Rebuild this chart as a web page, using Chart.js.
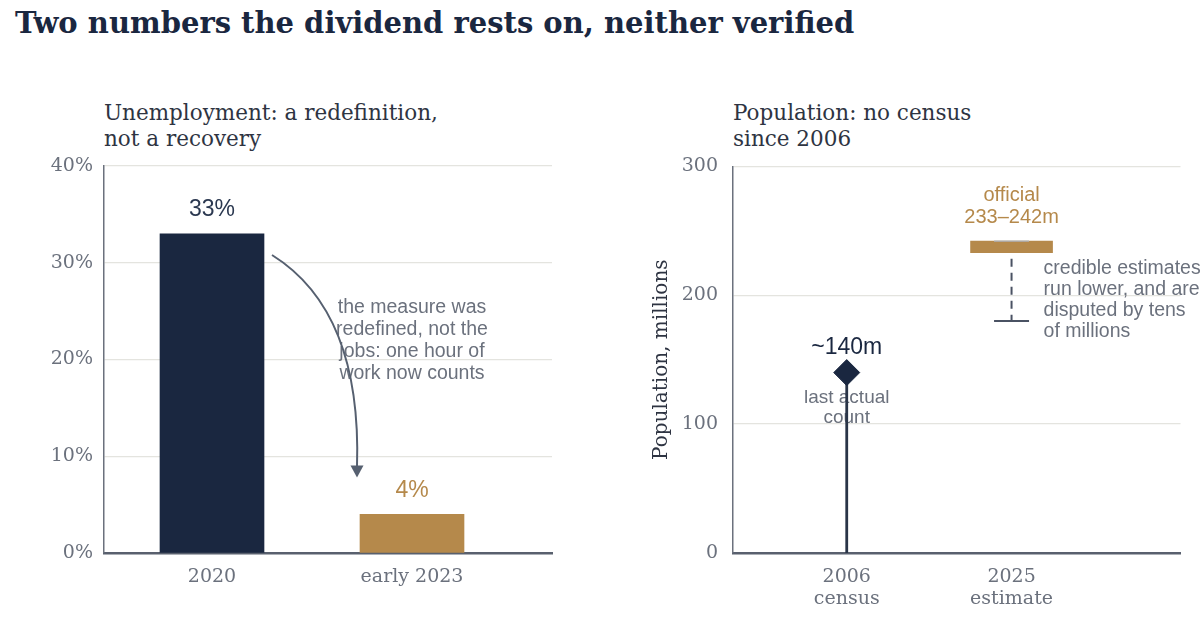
<!DOCTYPE html>
<html>
<head>
<meta charset="utf-8">
<script src="https://cdn.jsdelivr.net/npm/chart.js@4.4.1/dist/chart.umd.min.js"></script>
<style>
body{margin:0;background:#fff;width:1200px;height:636px;overflow:hidden;position:relative;font-family:"DejaVu Serif",serif}
h1{position:absolute;left:15px;top:6px;margin:0;font-size:29px;font-weight:bold;color:#1a2740;white-space:nowrap}
.sub{position:absolute;top:100px;font-size:21.5px;line-height:26px;color:#2e3442}
.wrap{position:absolute;top:140px;width:600px;height:496px}
</style>
</head>
<body>
<h1>Two numbers the dividend rests on, neither verified</h1>
<div class="sub" style="left:104px">Unemployment: a redefinition,<br>not a recovery</div>
<div class="sub" style="left:733px">Population: no census<br>since 2006</div>
<div class="wrap" style="left:0"><canvas id="unemp" width="600" height="496"></canvas></div>
<div class="wrap" style="left:600px"><canvas id="pop" width="600" height="496"></canvas></div>
<script>
// data
const unempLabels = ['2020', 'early 2023'];
const unempValues = [33, 4];
const unempTicks = [0, 10, 20, 30, 40];
const popLabels = [['2006', 'census'], ['2025', 'estimate']];
const censusValue = 140;
const officialRange = [233, 242];
const credibleLow = 180;
const popTicks = [0, 100, 200, 300];

const noteLines = ['the measure was', 'redefined, not the', 'jobs: one hour of', 'work now counts'];
const credibleLines = ['credible estimates', 'run lower, and are', 'disputed by tens', 'of millions'];

const NAVY = '#1a2740';
const TAN = '#b5894b';
const GRAY = '#6b717d';
const GRID = '#e4e4df';
const SANS = '"Liberation Sans", Arial, sans-serif';
const SERIF = '"DejaVu Serif", serif';

function txt(ctx, s, x, y, font, color, align) {
    ctx.save();
    ctx.font = font;
    ctx.fillStyle = color;
    ctx.textAlign = align || 'center';
    ctx.textBaseline = 'middle';
    ctx.fillText(s, x, y);
    ctx.restore();
}

const unempNotes = {
    id: 'unempNotes',
    afterDatasetsDraw(chart) {
        const ctx = chart.ctx, x = chart.scales.x, y = chart.scales.y;
        const colors = ['#2b3850', TAN];
        unempValues.forEach((v, i) => {
            txt(ctx, v + '%', x.getPixelForValue(i), y.getPixelForValue(v) - 24, '23px ' + SANS, colors[i]);
        });
        noteLines.forEach((s, i) => {
            txt(ctx, s, x.getPixelForValue(1), y.getPixelForValue(25.4) + i * 22, '19.5px ' + SANS, GRAY);
        });
        // curved arrow
        const p0 = [x.getPixelForValue(0.3), y.getPixelForValue(30.8)];
        const c = [x.getPixelForValue(0.75), y.getPixelForValue(25)];
        const p2 = [x.getPixelForValue(0.725), y.getPixelForValue(7.8)];
        ctx.save();
        ctx.strokeStyle = '#566070';
        ctx.fillStyle = '#566070';
        ctx.lineWidth = 2;
        ctx.beginPath();
        ctx.moveTo(p0[0], p0[1]);
        ctx.quadraticCurveTo(c[0], c[1], p2[0], p2[1] - 10);
        ctx.stroke();
        ctx.beginPath();
        ctx.moveTo(p2[0], p2[1]);
        ctx.lineTo(p2[0] - 6.5, p2[1] - 12);
        ctx.lineTo(p2[0] + 6.5, p2[1] - 12);
        ctx.closePath();
        ctx.fill();
        ctx.restore();
    }
};

const popNotes = {
    id: 'popNotes',
    beforeDatasetsDraw(chart) {
        const ctx = chart.ctx, x = chart.scales.x, y = chart.scales.y;
        const py = y.getPixelForValue(censusValue);
        txt(ctx, 'last actual', x.getPixelForValue(0), py + 25, '19px ' + SANS, GRAY);
        txt(ctx, 'count', x.getPixelForValue(0), py + 45, '19px ' + SANS, GRAY);
    },
    afterDatasetsDraw(chart) {
        const ctx = chart.ctx, x = chart.scales.x, y = chart.scales.y;
        const px1 = x.getPixelForValue(1);
        const top = y.getPixelForValue(officialRange[1]);
        txt(ctx, 'official', px1, top - 46, '20px ' + SANS, TAN);
        txt(ctx, officialRange[0] + '–' + officialRange[1] + 'm', px1, top - 24, '20px ' + SANS, TAN);
        txt(ctx, '~' + censusValue + 'm', x.getPixelForValue(0), y.getPixelForValue(censusValue) - 25, '23px ' + SANS, NAVY);
        const low = y.getPixelForValue(credibleLow);
        credibleLines.forEach((s, i) => {
            txt(ctx, s, px1 + 32, low - 52 + i * 21, '19.5px ' + SANS, GRAY, 'left');
        });
    }
};

new Chart(document.getElementById('unemp'), {
    type: 'bar',
    data: {
        datasets: [{
            data: unempValues.map((v, i) => ({ x: i, y: v })),
            backgroundColor: [NAVY, TAN],
            barThickness: 104
        }]
    },
    options: {
        responsive: false,
        animation: false,
        events: [],
        layout: { padding: { top: 26, right: 48, left: 0, bottom: 0 } },
        plugins: { legend: { display: false }, tooltip: { enabled: false } },
        scales: {
            x: {
                type: 'linear', min: -0.54, max: 1.7, offset: false,
                afterBuildTicks: s => { s.ticks = unempLabels.map((l, i) => ({ value: i })); },
                afterFit: s => { s.height = 83; },
                grid: { display: false },
                border: { color: '#59606e', width: 2.5 },
                ticks: { callback: v => unempLabels[v], padding: 5, color: GRAY, font: { family: SERIF, size: 19 } }
            },
            y: {
                min: 0, max: 40,
                afterBuildTicks: s => { s.ticks = unempTicks.map(v => ({ value: v })); },
                afterFit: s => { s.width = 104; },
                grid: { color: GRID, lineWidth: 1.3, drawTicks: false },
                border: { color: '#6b717d', width: 1.5 },
                ticks: { callback: v => v + '%', padding: 11, color: GRAY, font: { family: SERIF, size: 19 } }
            }
        }
    },
    plugins: [unempNotes]
});

new Chart(document.getElementById('pop'), {
    type: 'bar',
    data: {
        datasets: [
            {
                type: 'line',
                data: [{ x: 0, y: 0 }, { x: 0, y: censusValue }],
                borderColor: '#2a3548', borderWidth: 2.8, pointRadius: 0, order: 3
            },
            {
                type: 'bar',
                data: [{ x: 1, y: officialRange }],
                backgroundColor: TAN, barThickness: 82, order: 4
            },
            {
                type: 'line',
                data: [{ x: 1, y: officialRange[0] }, { x: 1, y: credibleLow }],
                borderColor: '#4a5263', borderWidth: 2, borderDash: [8, 6], borderDashOffset: 8,
                pointRadius: 0, order: 2
            },
            {
                type: 'scatter',
                data: [{ x: 1, y: credibleLow }],
                pointStyle: 'line', pointRadius: 17.5, borderColor: '#4a5263', pointBorderWidth: 2, order: 1
            },
            {
                type: 'scatter',
                data: [{ x: 1, y: officialRange[1] }],
                pointStyle: 'line', pointRadius: 17.5, borderColor: '#aeb2ba', pointBorderWidth: 1.2, order: 1
            },
            {
                type: 'scatter',
                data: [{ x: 0, y: censusValue }],
                pointStyle: 'rectRot', pointRadius: 13, backgroundColor: NAVY, borderColor: NAVY, order: 0
            }
        ]
    },
    options: {
        responsive: false,
        animation: false,
        events: [],
        layout: { padding: { top: 26, right: 7, left: 50, bottom: 0 } },
        plugins: { legend: { display: false }, tooltip: { enabled: false } },
        scales: {
            x: {
                type: 'linear', min: -0.69, max: 2.025, offset: false,
                afterBuildTicks: s => { s.ticks = popLabels.map((l, i) => ({ value: i })); },
                afterFit: s => { s.height = 83; },
                grid: { display: false },
                border: { color: '#59606e', width: 2.5 },
                ticks: { callback: v => popLabels[v], padding: 5, color: GRAY, font: { family: SERIF, size: 19, lineHeight: 1.15 } }
            },
            y: {
                min: 0, max: 300,
                afterBuildTicks: s => { s.ticks = popTicks.map(v => ({ value: v })); },
                afterFit: s => { s.width = 83; },
                grid: { color: GRID, lineWidth: 1.3, drawTicks: false },
                border: { color: '#6b717d', width: 1.5 },
                title: { display: true, text: 'Population, millions', color: '#2e3442', font: { family: SERIF, size: 20 }, padding: 0 },
                ticks: { padding: 15, color: GRAY, font: { family: SERIF, size: 19 } }
            }
        }
    },
    plugins: [popNotes]
});
</script>
</body>
</html>
